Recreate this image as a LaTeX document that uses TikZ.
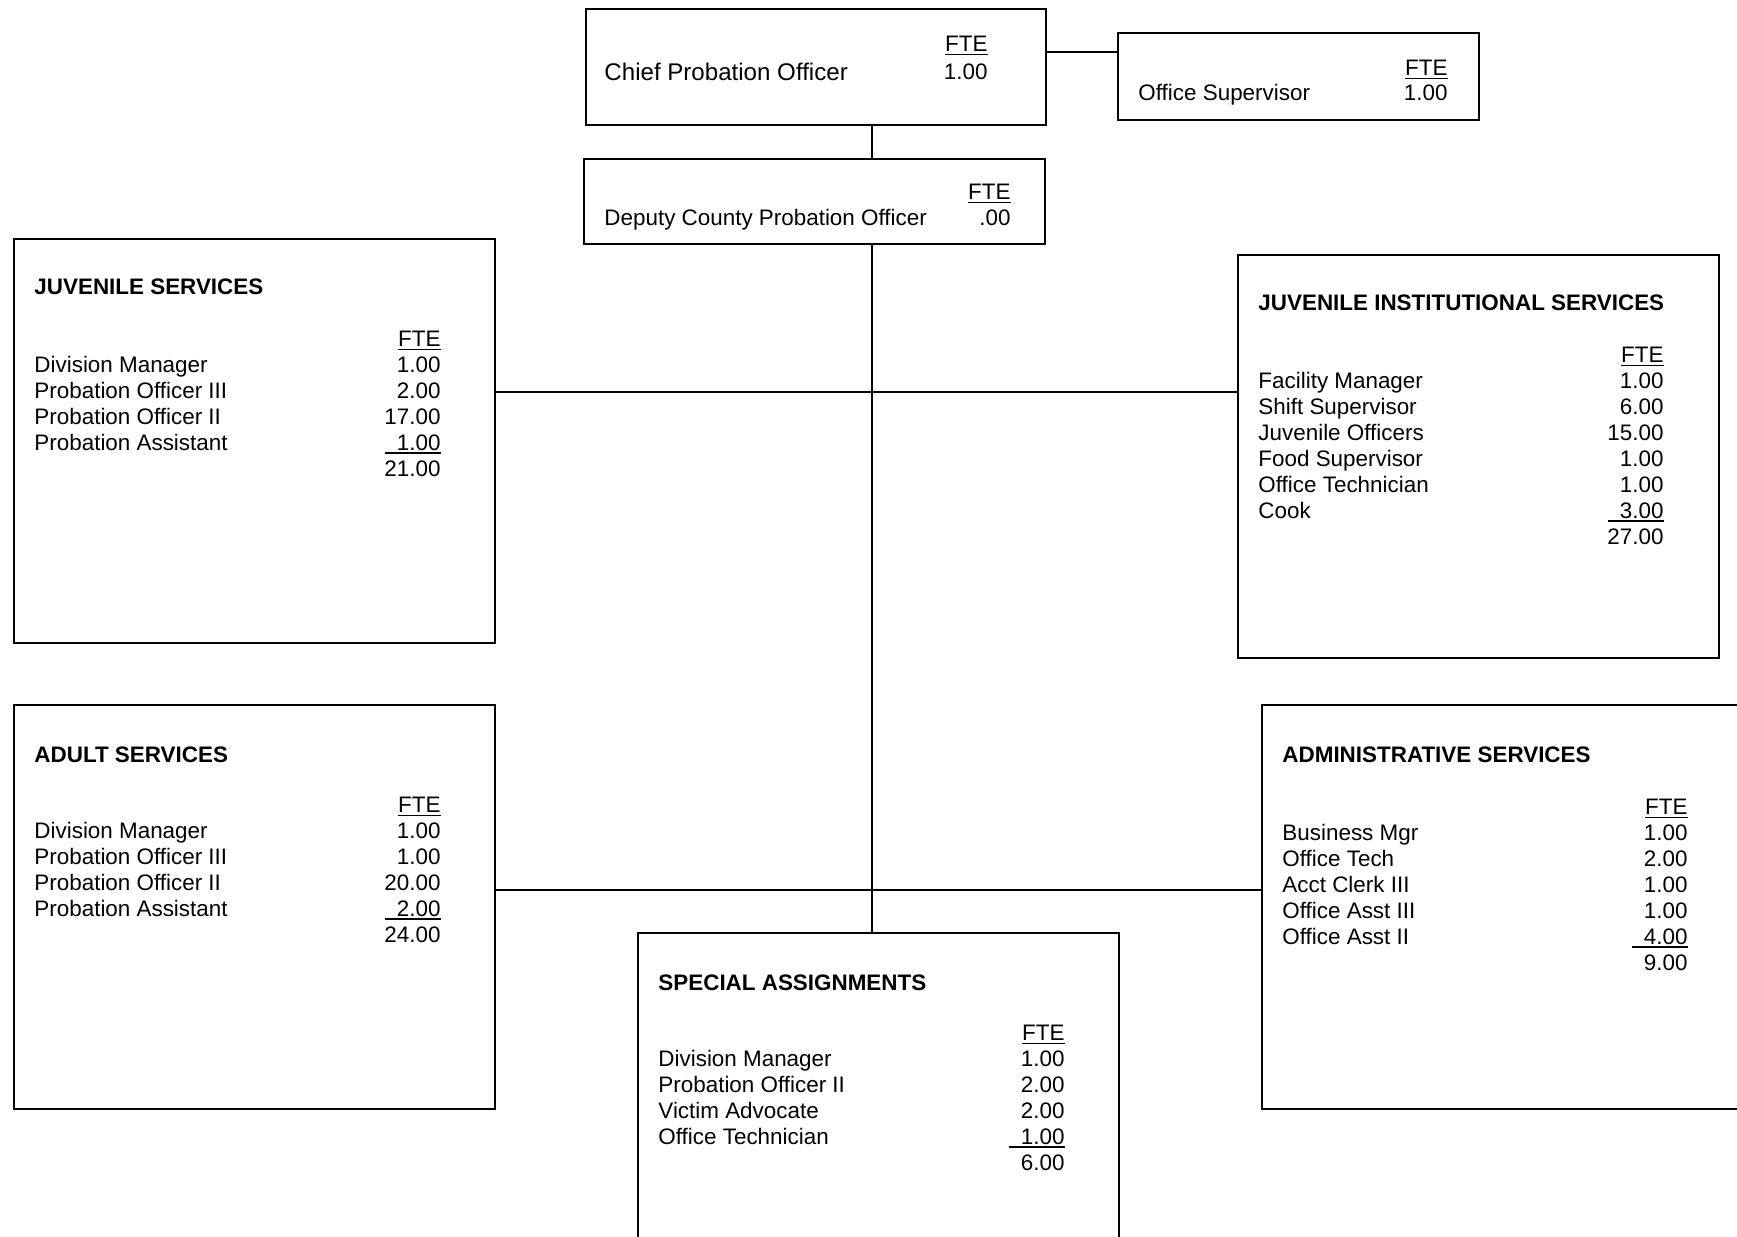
\documentclass[tikz,border=0pt]{standalone}
\usepackage{fontspec}
\setmainfont{Liberation Sans}
\usetikzlibrary{positioning, calc}
\def\px{0.446pt}

\begin{document}
\begin{tikzpicture}[x=\px, y=-\px,
    box/.style={draw, line width=1.1pt, inner sep=0pt, anchor=north west},
    txt/.style={inner sep=0pt, anchor=base west},
    num/.style={inner sep=0pt, anchor=base east},
    head/.style={txt, font=\bfseries},
    rule/.style={line width=0.6pt},
    link/.style={line width=1pt}]

\useasboundingbox (0,0) rectangle (1737,1236);
\clip (0,0) rectangle (1737,1236);

% top
\node[box, minimum width=460*\px, minimum height=116*\px] (chief) at (585,8) {};
\node[txt, font=\fontsize{10.75}{13}\selectfont] (chief-t) at (604,80) {Chief Probation Officer};
\node[num] (chief-h) at (988,51) {\underline{FTE}};
\node[num] (chief-v) at (988,79) {1.00};

\node[box, minimum width=361*\px, minimum height=87*\px] (office) at (1117,32) {};
\node[txt] (office-t) at (1138,100) {Office Supervisor};
\node[num] (office-h) at (1448,75) {\underline{FTE}};
\node[num] (office-v) at (1448,100) {1.00};

\node[box, minimum width=461*\px, minimum height=85*\px] (deputy) at (583,158) {};
\node[txt] (deputy-t) at (604,225) {Deputy County Probation Officer};
\node[num] (deputy-h) at (1011,199) {\underline{FTE}};
\node[num] (deputy-v) at (1011,225) {.00};

% juvenile
\node[box, minimum width=481*\px, minimum height=404*\px] (juv) at (13,238) {};
\node[head] (juv-t) at ($(juv.north west)+(21,56)$) {JUVENILE SERVICES};
\node[num] (juv-h) at ($(juv.north west)+(428,108)$) {\underline{FTE}};
\foreach \t/\v [count=\i] in {Division Manager/1.00, Probation Officer III/2.00,
    Probation Officer II/17.00, Probation Assistant/1.00}{
    \node[txt] (juv-\i) at ($(juv.north west)+(21,{108+26*\i})$) {\t};
    \node[num] (juv-v\i) at ($(juv.north west)+(428,{108+26*\i})$) {\v};
}
\node[num] (juv-sum) at ($(juv.north west)+(428,238)$) {21.00};
\draw[rule] ($(juv-v4.base east)+(0,3)$) -- ++(-56,0);

\node[box, minimum width=481*\px, minimum height=403*\px] (inst) at (1237,254) {};
\node[head] (inst-t) at ($(inst.north west)+(21,56)$) {JUVENILE INSTITUTIONAL SERVICES};
\node[num] (inst-h) at ($(inst.north west)+(427,108)$) {\underline{FTE}};
\foreach \t/\v [count=\i] in {Facility Manager/1.00, Shift Supervisor/6.00,
    Juvenile Officers/15.00, Food Supervisor/1.00, Office Technician/1.00, Cook/3.00}{
    \node[txt] (inst-\i) at ($(inst.north west)+(21,{108+26*\i})$) {\t};
    \node[num] (inst-v\i) at ($(inst.north west)+(427,{108+26*\i})$) {\v};
}
\node[num] (inst-sum) at ($(inst.north west)+(427,290)$) {27.00};
\draw[rule] ($(inst-v6.base east)+(0,3)$) -- ++(-56,0);

% adult
\node[box, minimum width=481*\px, minimum height=404*\px] (adult) at (13,704) {};
\node[head] (adult-t) at ($(adult.north west)+(21,58)$) {ADULT SERVICES};
\node[num] (adult-h) at ($(adult.north west)+(428,108)$) {\underline{FTE}};
\foreach \t/\v [count=\i] in {Division Manager/1.00, Probation Officer III/1.00,
    Probation Officer II/20.00, Probation Assistant/2.00}{
    \node[txt] (adult-\i) at ($(adult.north west)+(21,{108+26*\i})$) {\t};
    \node[num] (adult-v\i) at ($(adult.north west)+(428,{108+26*\i})$) {\v};
}
\node[num] (adult-sum) at ($(adult.north west)+(428,238)$) {24.00};
\draw[rule] ($(adult-v4.base east)+(0,3)$) -- ++(-56,0);

\node[box, minimum width=481*\px, minimum height=404*\px] (admin) at (1261,704) {};
\node[head] (admin-t) at ($(admin.north west)+(21,58)$) {ADMINISTRATIVE SERVICES};
\node[num] (admin-h) at ($(admin.north west)+(427,110)$) {\underline{FTE}};
\foreach \t/\v [count=\i] in {Business Mgr/1.00, Office Tech/2.00,
    Acct Clerk III/1.00, Office Asst III/1.00, Office Asst II/4.00}{
    \node[txt] (admin-\i) at ($(admin.north west)+(21,{110+26*\i})$) {\t};
    \node[num] (admin-v\i) at ($(admin.north west)+(427,{110+26*\i})$) {\v};
}
\node[num] (admin-sum) at ($(admin.north west)+(427,266)$) {9.00};
\draw[rule] ($(admin-v5.base east)+(0,3)$) -- ++(-56,0);

% special
\node[box, minimum width=481*\px, minimum height=404*\px] (special) at (637,932) {};
\node[head] (special-t) at ($(special.north west)+(21,58)$) {SPECIAL ASSIGNMENTS};
\node[num] (special-h) at ($(special.north west)+(428,108)$) {\underline{FTE}};
\foreach \t/\v [count=\i] in {Division Manager/1.00, Probation Officer II/2.00,
    Victim Advocate/2.00, Office Technician/1.00}{
    \node[txt] (special-\i) at ($(special.north west)+(21,{108+26*\i})$) {\t};
    \node[num] (special-v\i) at ($(special.north west)+(428,{108+26*\i})$) {\v};
}
\node[num] (special-sum) at ($(special.north west)+(428,238)$) {6.00};
\draw[rule] ($(special-v4.base east)+(0,3)$) -- ++(-56,0);

% lines
\coordinate (spine) at (872,0);
\coordinate (tie) at (0,52);
\coordinate (row1) at (0,392);
\coordinate (row2) at (0,890);
\draw[link] (chief.east |- tie) -- (office.west |- tie);
\draw[link] (chief.south -| spine) -- (deputy.north -| spine);
\draw[link] (deputy.south -| spine) -- (special.north -| spine);
\draw[link] (juv.east |- row1) -- (inst.west |- row1);
\draw[link] (adult.east |- row2) -- (admin.west |- row2);

\end{tikzpicture}
\end{document}
